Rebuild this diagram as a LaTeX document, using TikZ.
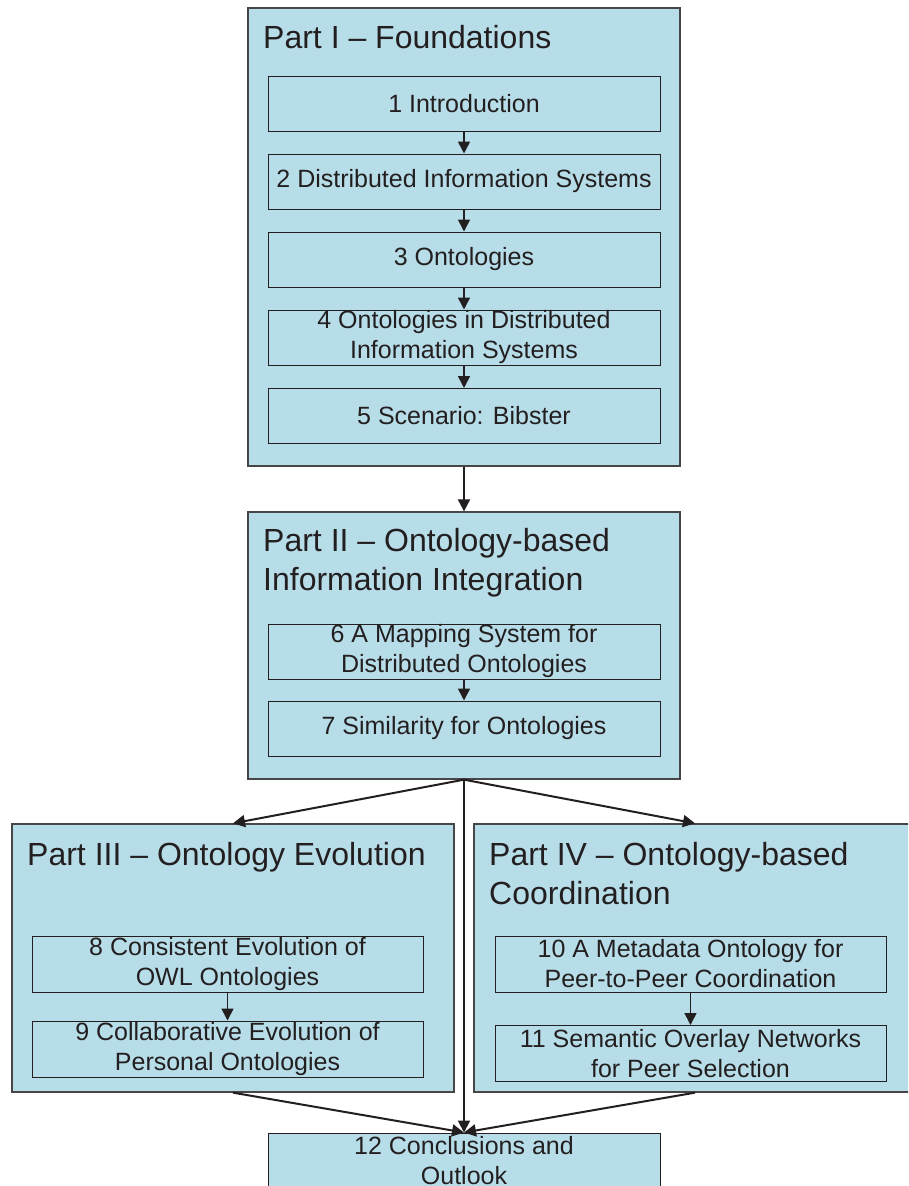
\documentclass[tikz,border=0pt]{standalone}
\usepackage{fontspec}
\setmainfont{Liberation Sans}
\usetikzlibrary{arrows.meta}
\definecolor{partfill}{RGB}{183,221,232}
\definecolor{ink}{RGB}{35,31,32}
\definecolor{frame}{RGB}{70,70,70}

\begin{document}
\begin{tikzpicture}[x=1pt,y=-1pt,
  partbox/.style={draw=frame, fill=partfill, line width=1.3pt, inner sep=0pt},
  chapbox/.style={draw=ink, line width=1pt, inner sep=0pt, minimum height=55pt,
    align=center, text=ink, font=\fontsize{25}{30}\selectfont},
  parttitle/.style={anchor=north west, inner sep=0pt, align=left, text=ink,
    font=\fontsize{32}{39}\selectfont},
  link/.style={draw=ink, line width=1.6pt, -{Triangle[length=12pt,width=12pt]}},
  mainlink/.style={link, line width=2pt}]
\clip (0,0) rectangle (908,1186);
\fill[white] (0,0) rectangle (908,1186);

% Part I
\node[partbox, minimum width=432pt, minimum height=458pt] (p1) at (464,237) {};
\node[parttitle] (t1) at (263,25.5) {Part I -- Foundations};
\node[chapbox, minimum width=392pt] (c1) at (464,103.5) {1 Introduction};
\node[chapbox, minimum width=392pt] (c2) at (464,181.5) {2 Distributed Information Systems};
\node[chapbox, minimum width=392pt] (c3) at (464,259.5) {3 Ontologies};
\node[chapbox, minimum width=392pt] (c4) at (464,337.5) {4 Ontologies in Distributed\\Information Systems};
\node[chapbox, minimum width=392pt] (c5) at (464,416) {5 Scenario: Bibster};

% Part II
\node[partbox, minimum width=432pt, minimum height=267pt] (p2) at (464,645.5) {};
\node[parttitle] (t2) at (263,528.5) {Part II -- Ontology-based\\Information Integration};
\node[chapbox, minimum width=392pt] (c6) at (464,651.5) {6 A Mapping System for\\Distributed Ontologies};
\node[chapbox, minimum width=392pt] (c7) at (464,728.5) {7 Similarity for Ontologies};

% Part III
\node[partbox, minimum width=442pt, minimum height=268pt] (p3) at (233,958) {};
\node[parttitle] (t3) at (27,842.5) {Part III -- Ontology Evolution};
\node[chapbox, minimum width=391pt, minimum height=56pt] (c8) at (227.5,964) {8 Consistent Evolution of\\OWL Ontologies};
\node[chapbox, minimum width=391pt, minimum height=56pt] (c9) at (227.5,1049) {9 Collaborative Evolution of\\Personal Ontologies};

% Part IV
\node[partbox, minimum width=442pt, minimum height=268pt] (p4) at (695,958) {};
\node[parttitle] (t4) at (489,842.5) {Part IV -- Ontology-based\\Coordination};
\node[chapbox, minimum width=391pt, minimum height=56pt] (c10) at (690.5,964) {10 A Metadata Ontology for\\Peer-to-Peer Coordination};
\node[chapbox, minimum width=391pt, minimum height=56pt] (c11) at (690.5,1053.5) {11 Semantic Overlay Networks\\for Peer Selection};

% Conclusion
\node[chapbox, fill=partfill, minimum width=392pt] (c12) at (464,1160.5) {12 Conclusions and\\Outlook};

% chapter order inside the parts
\draw[link] (c1) -- (c2);
\draw[link] (c2) -- (c3);
\draw[link] (c3) -- (c4);
\draw[link] (c4) -- (c5);
\draw[link] (c6) -- (c7);
\draw[link] (c8) -- (c9);
\draw[link] (c10) -- (c11);

% dependencies between the parts
\draw[mainlink] (p1.south) -- (p2.north);
\draw[mainlink] (p2.south) -- (p3.north);
\draw[mainlink] (p2.south) -- (p4.north);
\draw[mainlink] (p2.south) -- (c12.north);
\draw[mainlink] (p3.south) -- (c12.north);
\draw[mainlink] (p4.south) -- (c12.north);
\end{tikzpicture}
\end{document}
